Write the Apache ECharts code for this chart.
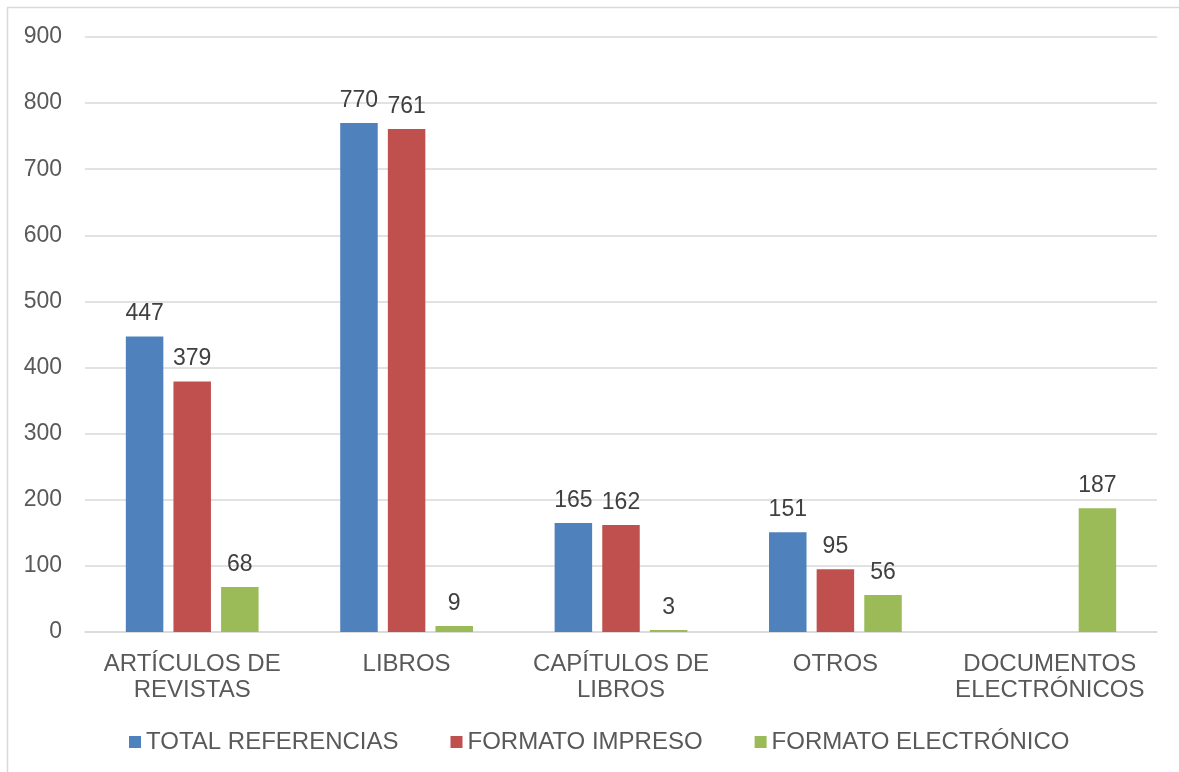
<!DOCTYPE html>
<html>
<head>
<meta charset="utf-8">
<script src="https://cdn.jsdelivr.net/npm/echarts@6/dist/echarts.min.js"></script>
<style>html,body{margin:0;padding:0;background:#fff;}#c{width:1179px;height:772px;}</style>
</head>
<body>
<div id="c"></div>
<script>
const categories = ['ARTÍCULOS DE\nREVISTAS', 'LIBROS', 'CAPÍTULOS DE\nLIBROS', 'OTROS', 'DOCUMENTOS\nELECTRÓNICOS'];
const seriesNames = ['TOTAL REFERENCIAS', 'FORMATO IMPRESO', 'FORMATO ELECTRÓNICO'];
const totalReferencias = [447, 770, 165, 151, null];
const formatoImpreso = [379, 761, 162, 95, null];
const formatoElectronico = [68, 9, 3, 56, 187];
const colors = ['#4F81BD', '#C0504D', '#9BBB59'];

const chart = echarts.init(document.getElementById('c'));
const font = '"Liberation Sans", Arial, sans-serif';
const mk = (name, data, color) => ({
  name, type: 'bar', data,
  barWidth: 37.5, barGap: '27%',
  itemStyle: { color },
  label: { show: true, position: 'top', distance: 11, color: '#404040', fontSize: 23, fontFamily: font }
});
chart.setOption({
  animation: false,
  graphic: [{ type: 'rect', shape: { x: 7.5, y: 7.5, width: 1200, height: 800 }, style: { fill: 'none', stroke: '#d9d9d9', lineWidth: 1.5 }, silent: true }],
  grid: { left: 85, right: 22, top: 37, bottom: 140 },
  legend: {
    top: 725, left: 124,
    itemWidth: 12, itemHeight: 12, itemGap: 52,
    icon: 'rect',
    textStyle: { color: '#595959', fontSize: 24, fontFamily: font },
    data: seriesNames
  },
  xAxis: {
    type: 'category', data: categories,
    axisLine: { lineStyle: { color: '#d9d9d9', width: 1.5 } },
    axisTick: { show: false },
    axisLabel: { color: '#595959', fontSize: 24, fontFamily: font, margin: 19, lineHeight: 26, interval: 0 }
  },
  yAxis: {
    type: 'value', min: 0, max: 900, interval: 100,
    axisLine: { show: false }, axisTick: { show: false },
    splitLine: { lineStyle: { color: '#d9d9d9', width: 1.5 } },
    axisLabel: { color: '#595959', fontSize: 23, fontFamily: font, margin: 23 }
  },
  series: [
    mk(seriesNames[0], totalReferencias, colors[0]),
    mk(seriesNames[1], formatoImpreso, colors[1]),
    mk(seriesNames[2], formatoElectronico, colors[2])
  ]
});
</script>
</body>
</html>
